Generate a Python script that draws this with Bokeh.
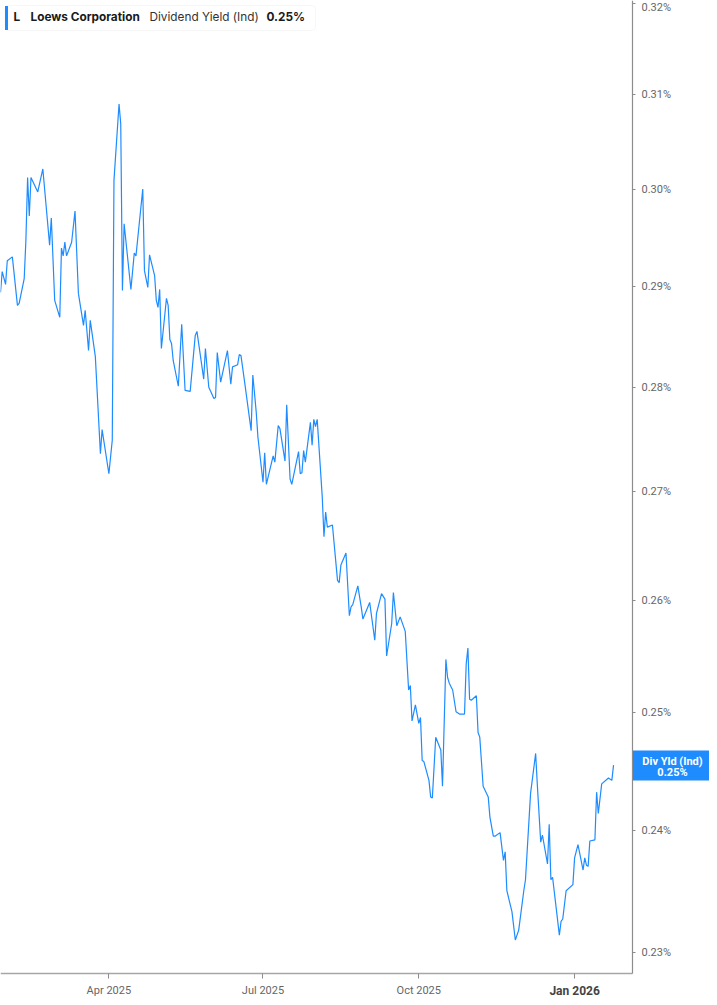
import math
import pandas as pd
from bokeh.plotting import figure
from bokeh.models import (Range1d, FixedTicker, PrintfTickFormatter, Label, BoxAnnotation,
                          LogAxis, DatetimeAxis)
from bokeh.embed import file_html
from bokeh.resources import INLINE

# ---------------- data ----------------
dates = [
    "2025-01-27", "2025-01-28", "2025-01-30", "2025-01-31", "2025-02-03", "2025-02-06", "2025-02-07",
    "2025-02-10", "2025-02-11", "2025-02-12", "2025-02-13", "2025-02-14", "2025-02-18", "2025-02-21",
    "2025-02-25", "2025-02-26", "2025-02-28", "2025-03-03", "2025-03-04", "2025-03-05", "2025-03-06",
    "2025-03-07", "2025-03-10", "2025-03-12", "2025-03-14", "2025-03-17", "2025-03-18", "2025-03-20",
    "2025-03-21", "2025-03-24", "2025-03-27", "2025-03-28", "2025-04-01", "2025-04-03", "2025-04-04",
    "2025-04-07", "2025-04-08", "2025-04-09", "2025-04-10", "2025-04-14", "2025-04-16", "2025-04-17",
    "2025-04-21", "2025-04-22", "2025-04-24", "2025-04-25", "2025-04-28", "2025-04-29", "2025-04-30",
    "2025-05-01", "2025-05-02", "2025-05-05", "2025-05-06", "2025-05-07", "2025-05-08", "2025-05-09",
    "2025-05-12", "2025-05-14", "2025-05-16", "2025-05-19", "2025-05-22", "2025-05-23", "2025-05-27",
    "2025-05-28", "2025-05-30", "2025-06-02", "2025-06-03", "2025-06-04", "2025-06-06", "2025-06-10",
    "2025-06-12", "2025-06-13", "2025-06-16", "2025-06-17", "2025-06-18", "2025-06-20", "2025-06-24",
    "2025-06-25", "2025-06-27", "2025-06-28", "2025-07-01", "2025-07-02", "2025-07-03", "2025-07-07",
    "2025-07-08", "2025-07-10", "2025-07-11", "2025-07-14", "2025-07-15", "2025-07-17", "2025-07-18",
    "2025-07-22", "2025-07-23", "2025-07-24", "2025-07-25", "2025-07-26", "2025-07-29", "2025-07-30",
    "2025-07-31", "2025-08-01", "2025-08-02", "2025-08-05", "2025-08-06", "2025-08-07", "2025-08-08",
    "2025-08-11", "2025-08-14", "2025-08-15", "2025-08-16", "2025-08-19", "2025-08-21", "2025-08-22",
    "2025-08-23", "2025-08-26", "2025-08-28", "2025-08-29", "2025-09-02", "2025-09-05", "2025-09-06",
    "2025-09-09", "2025-09-11", "2025-09-12", "2025-09-15", "2025-09-16", "2025-09-18", "2025-09-20",
    "2025-09-23", "2025-09-25", "2025-09-26", "2025-09-27", "2025-09-29", "2025-10-01", "2025-10-02",
    "2025-10-03", "2025-10-04", "2025-10-07", "2025-10-08", "2025-10-09", "2025-10-11", "2025-10-14",
    "2025-10-15", "2025-10-17", "2025-10-18", "2025-10-19", "2025-10-21", "2025-10-23", "2025-10-25",
    "2025-10-28", "2025-10-29", "2025-10-30", "2025-10-31", "2025-11-01", "2025-11-04", "2025-11-05",
    "2025-11-06", "2025-11-08", "2025-11-11", "2025-11-12", "2025-11-14", "2025-11-15", "2025-11-18",
    "2025-11-20", "2025-11-21", "2025-11-22", "2025-11-25", "2025-11-27", "2025-11-29", "2025-12-02",
    "2025-12-03", "2025-12-06", "2025-12-09", "2025-12-10", "2025-12-12", "2025-12-13", "2025-12-16",
    "2025-12-17", "2025-12-18", "2025-12-19", "2025-12-23", "2025-12-24", "2025-12-25", "2025-12-27",
    "2025-12-31", "2026-01-01", "2026-01-03", "2026-01-06", "2026-01-07", "2026-01-08", "2026-01-09",
    "2026-01-10", "2026-01-13", "2026-01-14", "2026-01-15", "2026-01-17", "2026-01-21", "2026-01-23",
    "2026-01-24",
]
dividend_yield_pct = [
    0.2894, 0.2915, 0.2902, 0.2926, 0.2930, 0.2881, 0.2883,
    0.2908, 0.2947, 0.3012, 0.2972, 0.3012, 0.2997, 0.3021,
    0.2942, 0.2970, 0.2886, 0.2869, 0.2939, 0.2931, 0.2945,
    0.2931, 0.2945, 0.2977, 0.2893, 0.2861, 0.2876, 0.2836,
    0.2866, 0.2830, 0.2736, 0.2759, 0.2717, 0.2749, 0.3009,
    0.3090, 0.3069, 0.2896, 0.2964, 0.2897, 0.2934, 0.2931,
    0.3000, 0.2916, 0.2899, 0.2932, 0.2911, 0.2886, 0.2879,
    0.2897, 0.2838, 0.2888, 0.2881, 0.2847, 0.2843, 0.2826,
    0.2801, 0.2862, 0.2797, 0.2796, 0.2851, 0.2855, 0.2808,
    0.2838, 0.2800, 0.2789, 0.2790, 0.2834, 0.2805, 0.2836,
    0.2803, 0.2820, 0.2822, 0.2832, 0.2831, 0.2807, 0.2758,
    0.2812, 0.2776, 0.2752, 0.2709, 0.2737, 0.2707, 0.2734,
    0.2728, 0.2763, 0.2760, 0.2729, 0.2783, 0.2712, 0.2707,
    0.2738, 0.2717, 0.2718, 0.2739, 0.2728, 0.2766, 0.2744,
    0.2769, 0.2762, 0.2769, 0.2695, 0.2658, 0.2681, 0.2667,
    0.2669, 0.2618, 0.2616, 0.2632, 0.2643, 0.2586, 0.2594,
    0.2596, 0.2613, 0.2594, 0.2583, 0.2598, 0.2564, 0.2588,
    0.2606, 0.2601, 0.2550, 0.2579, 0.2607, 0.2577, 0.2585,
    0.2572, 0.2520, 0.2524, 0.2493, 0.2507, 0.2491, 0.2496,
    0.2459, 0.2458, 0.2442, 0.2428, 0.2427, 0.2479, 0.2468,
    0.2437, 0.2547, 0.2531, 0.2526, 0.2520, 0.2501, 0.2499,
    0.2499, 0.2543, 0.2557, 0.2512, 0.2511, 0.2515, 0.2483,
    0.2479, 0.2437, 0.2428, 0.2411, 0.2395, 0.2395, 0.2398,
    0.2375, 0.2382, 0.2350, 0.2333, 0.2310, 0.2318, 0.2350,
    0.2359, 0.2431, 0.2465, 0.2438, 0.2390, 0.2396, 0.2372,
    0.2405, 0.2359, 0.2361, 0.2314, 0.2325, 0.2327, 0.2350,
    0.2355, 0.2377, 0.2388, 0.2367, 0.2377, 0.2371, 0.2370,
    0.2391, 0.2392, 0.2432, 0.2414, 0.2439, 0.2444, 0.2442,
    0.2455,
]
x_tick_dates = ["2025-04-01", "2025-07-01", "2025-10-01", "2026-01-01"]
x_tick_labels = ["Apr 2025", "Jul 2025", "Oct 2025", "Jan 2026"]
y_ticks = [0.23, 0.24, 0.25, 0.26, 0.27, 0.28, 0.29, 0.30, 0.31, 0.32]

symbol = "L"
company = "Loews Corporation"
metric = "Dividend Yield (Ind)"
latest_text = "0.25%"
tag_title = "Div Yld (Ind)"

# ---------------- styling / layout calibration ----------------
BLUE = "#1e8cff"
W, H = 709, 997
FRAME_RIGHT_PX, FRAME_BOTTOM_PX = 632, 973
ORIGIN = pd.Timestamp("2025-01-27")
PX_PER_DAY = 1.6935
Y_REF_PX, Y_REF_VAL, PX_PER_LN = 94.3, 0.31, 2873.5


def px_to_ms(px):
    return (ORIGIN + pd.Timedelta(days=px / PX_PER_DAY)).value / 1e6


def py_to_val(py):
    return Y_REF_VAL * math.exp(-(py - Y_REF_PX) / PX_PER_LN)


def ms(s):
    return pd.Timestamp(s).value / 1e6


p = figure(
    width=W, height=H,
    x_axis_type="datetime", y_axis_type="log",
    x_axis_location=None, y_axis_location=None,
    x_range=Range1d(px_to_ms(0), px_to_ms(W)),
    y_range=Range1d(py_to_val(H), py_to_val(0)),
    output_backend="svg", toolbar_location=None,
    min_border=0,
)
p.outline_line_color = None
p.xgrid.visible = False
p.ygrid.visible = False
p.background_fill_color = "white"
p.border_fill_color = "white"

p.line(x=pd.to_datetime(dates), y=dividend_yield_pct, line_color=BLUE, line_width=1.2)

# right (value) axis, pinned at the plot edge
ya = LogAxis(fixed_location=px_to_ms(FRAME_RIGHT_PX),
             bounds=(py_to_val(FRAME_BOTTOM_PX), py_to_val(0)),
             ticker=FixedTicker(ticks=y_ticks),
             formatter=PrintfTickFormatter(format="%.2f%%"))
ya.axis_line_color = "#8c8c8c"
ya.axis_line_width = 1.2
ya.major_tick_line_color = "#8c8c8c"
ya.major_tick_in = 0
ya.major_tick_out = 3
ya.minor_tick_line_color = None
ya.major_label_standoff = 6
ya.major_label_text_font = "Roboto"
ya.major_label_text_font_size = "11px"
ya.major_label_text_color = "#666666"
p.add_layout(ya, "right")

# bottom (time) axis, pinned at the plot bottom
xa = DatetimeAxis(fixed_location=py_to_val(FRAME_BOTTOM_PX),
                  bounds=(px_to_ms(0), px_to_ms(FRAME_RIGHT_PX)),
                  ticker=FixedTicker(ticks=[ms(d) for d in x_tick_dates]))
xa.major_label_overrides = {
    ms(d): ("" if lab == "Jan 2026" else lab) for d, lab in zip(x_tick_dates, x_tick_labels)
}
xa.axis_line_color = "#a6a6a6"
xa.axis_line_width = 1.5
xa.major_tick_line_color = "#8c8c8c"
xa.major_tick_in = 0
xa.major_tick_out = 5
xa.minor_tick_line_color = None
xa.major_label_standoff = 5
xa.major_label_text_font = "Roboto"
xa.major_label_text_font_size = "11px"
xa.major_label_text_color = "#666666"
p.add_layout(xa, "below")

# bold year label
p.add_layout(Label(x=ms(x_tick_dates[3]), y=py_to_val(990), text=x_tick_labels[3],
                   text_align="center", text_baseline="middle", text_font="Roboto",
                   text_font_size="12px", text_font_style="bold", text_color="#444444"))

# legend box (top-left)
p.add_layout(BoxAnnotation(left=px_to_ms(4.5), right=px_to_ms(315), top=py_to_val(5), bottom=py_to_val(30),
                           fill_color="white", fill_alpha=1, line_color="#e3e3e3", line_width=1,
                           border_radius=4))
p.add_layout(BoxAnnotation(left=px_to_ms(4.5), right=px_to_ms(7.5), top=py_to_val(5.5), bottom=py_to_val(29.5),
                           fill_color=BLUE, fill_alpha=1, line_color=None))
legend_items = [(symbol, 13, "bold", "#1a1a1a"), (company, 30, "bold", "#1a1a1a"),
                (metric, 149, "normal", "#333333"), (latest_text, 266, "bold", "#1a1a1a")]
for txt, px, style, col in legend_items:
    p.add_layout(Label(x=px_to_ms(px), y=py_to_val(16.5), text=txt, text_align="left",
                       text_baseline="middle", text_font="Inter", text_font_size="11.8px",
                       text_font_style=style, text_color=col))

# latest-value tag on the axis
p.add_layout(BoxAnnotation(left=px_to_ms(632.5), right=px_to_ms(740), top=py_to_val(750), bottom=py_to_val(780),
                           fill_color=BLUE, fill_alpha=1, line_color=None))
for txt, py in [(tag_title, 760.5), (latest_text, 771.5)]:
    p.add_layout(Label(x=px_to_ms(672), y=py_to_val(py), text=txt, text_align="center",
                       text_baseline="middle", text_font="Roboto", text_font_size="11px",
                       text_font_style="bold", text_color="white"))

open("out.html", "w").write(file_html(p, INLINE))
